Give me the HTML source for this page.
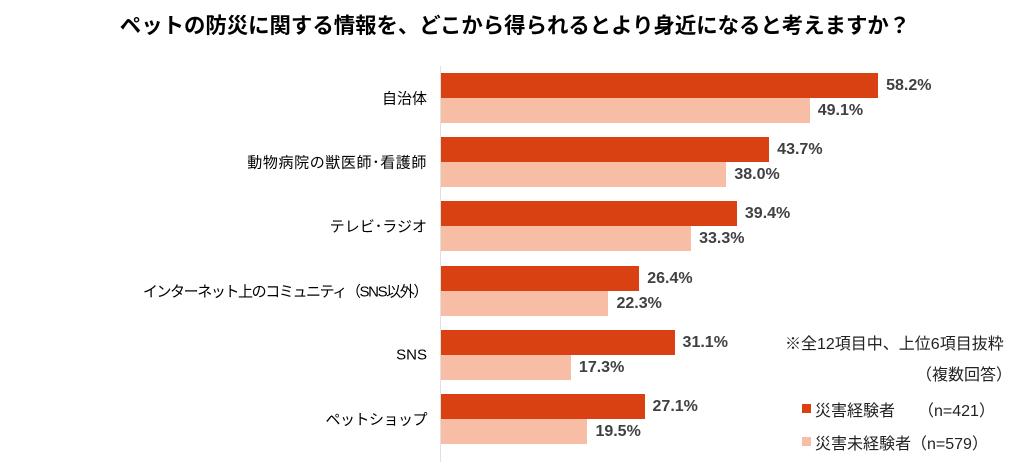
<!DOCTYPE html>
<html><head><meta charset="utf-8"><style>
body{margin:0;width:1024px;height:462px;background:#fff;position:relative;overflow:hidden;font-family:"Liberation Sans","Noto Sans CJK JP",sans-serif;}
.t{position:absolute;white-space:nowrap;}
.title{left:0;width:1030px;text-align:center;top:9px;font-size:21.4px;font-weight:bold;color:#000;}
.cat{right:597px;font-size:15px;color:#000;transform:translateY(-50%);}
.bar{position:absolute;left:441px;height:25px;}
.d{background:#d94112;}
.l{background:#f8bea5;}
.p{font-size:16px;font-weight:bold;color:#404040;transform:translateY(-50%);}
.axis{position:absolute;left:440px;top:66px;width:1px;height:396px;background:#e0e0e0;}
.lg{font-size:16px;color:#222;}
.sq{position:absolute;width:9px;height:9px;}
</style></head><body>
<div class="t title">ペットの防災に関する情報を、どこから得られるとより身近になると考えますか？</div>
<div class="axis"></div>
<div id="c"></div>
<script>
var data=[["自治体",58.2,49.1,0],["動物病院の獣医師･看護師",43.7,38.0,0.6],["テレビ･ラジオ",39.4,33.3,0],["インターネット上のコミュニティ（SNS以外）",26.4,22.3,-1.4],["SNS",31.1,17.3,0],["ペットショップ",27.1,19.5,-0.5]];
var s=7.51,h="";
data.forEach(function(r,i){var y=73+i*64.2;
h+='<div class="t cat" style="top:'+(y+25)+'px;letter-spacing:'+r[3]+'px">'+r[0]+'</div>';
h+='<div class="bar d" style="top:'+y+'px;width:'+(r[1]*s)+'px"></div>';
h+='<div class="bar l" style="top:'+(y+25)+'px;width:'+(r[2]*s)+'px"></div>';
h+='<div class="t p" style="top:'+(y+13)+'px;left:'+(441+r[1]*s+8)+'px">'+r[1].toFixed(1)+'%</div>';
h+='<div class="t p" style="top:'+(y+38)+'px;left:'+(441+r[2]*s+8)+'px">'+r[2].toFixed(1)+'%</div>';});
document.getElementById('c').innerHTML=h;
</script>
<div class="t lg" style="left:785px;top:330px">※全12項目中、上位6項目抜粋</div>
<div class="t lg" style="left:916px;top:361px">（複数回答）</div>
<div class="sq" style="left:802px;top:404px;background:#d94112"></div>
<div class="t lg" style="left:815px;top:397px">災害経験者</div>
<div class="t lg" style="left:918px;top:397px">（n=421）</div>
<div class="sq" style="left:802px;top:437px;background:#f8bea5"></div>
<div class="t lg" style="left:815px;top:430px">災害未経験者（n=579）</div>
</body></html>
